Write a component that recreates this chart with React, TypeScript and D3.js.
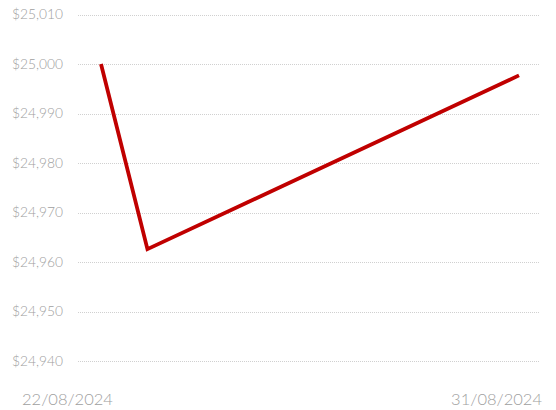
import React from "react";
import * as d3 from "d3";

const dates = ["2024-08-22", "2024-08-23", "2024-08-31"];
const values = [25000, 24962.6, 24997.7];
const yTicks = [24940, 24950, 24960, 24970, 24980, 24990, 25000, 25010];
const xTickLabels = ["22/08/2024", "31/08/2024"];

export default function App() {
  const W = 556, H = 410;
  const parse = d3.timeParse("%Y-%m-%d");
  const pts = dates.map((d, i) => ({ date: parse(d) as Date, value: values[i] }));
  const x = d3.scaleTime().domain([pts[0].date, pts[pts.length - 1].date]).range([101, 519]);
  const y = d3.scaleLinear().domain([24940, 25010]).range([361, 14.5]);
  const fmt = (v: number) => "$" + d3.format(",")(v);
  const line = d3.line<{ date: Date; value: number }>().x(d => x(d.date)).y(d => y(d.value));
  return (
    <svg width={W} height={H} style={{ position: "absolute", left: 0, top: 0, background: "#fff" }}
      fontFamily="Lato, 'Open Sans', sans-serif">
      {yTicks.map(t => (
        <g key={t}>
          <line x1={78} x2={540} y1={Math.round(y(t)) + 0.5} y2={Math.round(y(t)) + 0.5}
            stroke="#d0d0d0" strokeWidth={1} strokeDasharray="1,1" />
          <text x={63} y={y(t)} dy="0.35em" textAnchor="end" fontSize={13.8} fill="#a0a0a0" fontWeight={300}>
            {fmt(t)}
          </text>
        </g>
      ))}
      <path d={line(pts) || ""} fill="none" stroke="#c00000" strokeWidth={3.8} strokeLinejoin="miter" strokeLinecap="butt" />
      <text x={22} y={405} textAnchor="start" fontSize={16.5} fill="#a0a0a0" fontWeight={300}>{xTickLabels[0]}</text>
      <text x={542} y={405} textAnchor="end" fontSize={16.5} fill="#a0a0a0" fontWeight={300}>{xTickLabels[1]}</text>
    </svg>
  );
}
